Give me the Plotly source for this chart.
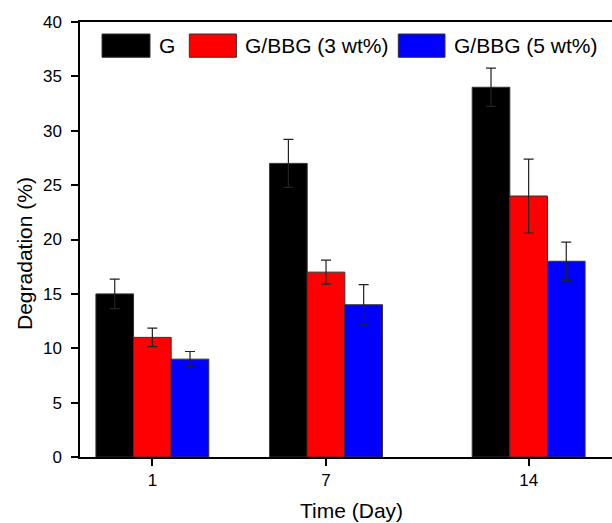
import plotly.graph_objects as go

days = [1, 7, 14]
series_names = ["G", "G/BBG (3 wt%)", "G/BBG (5 wt%)"]
g_vals = [15, 27, 34]
g_err = [1.35, 2.2, 1.75]
bbg3_vals = [11, 17, 24]
bbg3_err = [0.85, 1.1, 3.4]
bbg5_vals = [9, 14, 18]
bbg5_err = [0.7, 1.85, 1.75]
colors = ["#000000", "#FF0000", "#0000FF"]
y_ticks = [0, 5, 10, 15, 20, 25, 30, 35, 40]

FONT = "Liberation Sans, Arial, sans-serif"

fig = go.Figure()
for name, vals, errs, col in zip(series_names, [g_vals, bbg3_vals, bbg5_vals],
                                 [g_err, bbg3_err, bbg5_err], colors):
    fig.add_trace(go.Bar(
        x=days, y=vals, name=name,
        marker=dict(color=col, line=dict(color="#333333", width=1)),
        error_y=dict(type="data", array=errs, visible=True,
                     color="#222222", thickness=1.2, width=5),
        showlegend=False,
    ))

# custom legend (large swatches like the original)
leg_x = [(0.0414, 0.1316, 0.1447), (0.2055, 0.2940, 0.3064), (0.5983, 0.6861, 0.6992)]
for name, col, (x0, x1, xt) in zip(series_names, colors, leg_x):
    fig.add_shape(type="rect", xref="paper", yref="paper",
                  x0=x0, x1=x1, y0=0.9189, y1=0.9724,
                  fillcolor=col, line=dict(color="#333333", width=1))
    fig.add_annotation(xref="paper", yref="paper", x=xt, y=0.9455,
                       text=name, showarrow=False, xanchor="left", yanchor="middle",
                       font=dict(family=FONT, size=21, color="#000000"))

# axis titles
fig.add_annotation(xref="paper", yref="paper", x=0.511, y=-0.124,
                   text="Time (Day)", showarrow=False, xanchor="center", yanchor="middle",
                   font=dict(family=FONT, size=21, color="#000000"))
fig.add_annotation(xref="paper", yref="paper", x=-0.1034, y=0.469,
                   text="Degradation (%)", showarrow=False, textangle=-90,
                   xanchor="center", yanchor="middle",
                   font=dict(family=FONT, size=21, color="#000000"))

fig.update_layout(
    width=612, height=523,
    margin=dict(l=80, r=0, t=22, b=66, autoexpand=False),
    barmode="group", bargap=0.35, bargroupgap=0,
    plot_bgcolor="white", paper_bgcolor="white",
    font=dict(family=FONT, size=17, color="#000000"),
)
fig.update_xaxes(
    range=[-1.5, 16.88], tickmode="array", tickvals=days,
    ticktext=[str(d) for d in days], automargin=False,
    showgrid=False, zeroline=False,
    showline=True, linecolor="#000000", linewidth=1.5, mirror=True,
    ticks="outside", ticklen=7, tickwidth=1.5, tickcolor="#000000",
    tickfont=dict(size=17),
)
fig.update_yaxes(
    range=[0, 40], tickmode="array", tickvals=y_ticks, automargin=False,
    showgrid=False, zeroline=False,
    showline=True, linecolor="#000000", linewidth=1.5, mirror=False,
    ticks="outside", ticklen=7, tickwidth=1.5, tickcolor="#000000",
    tickfont=dict(size=17), ticklabelstandoff=6,
)

fig.write_html("out.html", config={"displayModeBar": False},
               post_script="document.body.style.margin='0';document.body.style.overflow='hidden';")
